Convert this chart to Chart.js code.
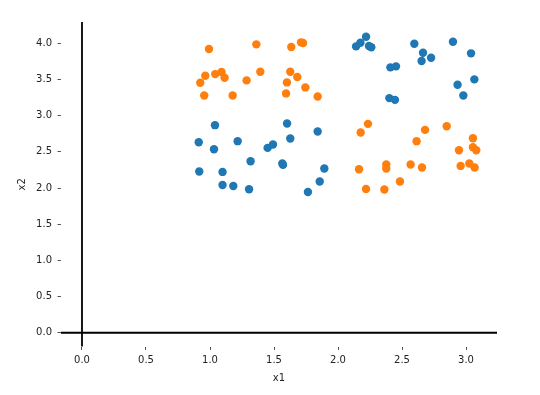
<!DOCTYPE html>
<html>
<head>
<meta charset="utf-8">
<script src="https://cdn.jsdelivr.net/npm/chart.js@4"></script>
<style>
  html, body { margin: 0; padding: 0; background: #fff; }
  #wrap { width: 540px; height: 395px; }
</style>
</head>
<body>
<div id="wrap"><canvas id="chart"></canvas></div>
<script>
// blue cluster (x1, x2)
const blueX = [1.039, 0.912, 1.031, 1.216, 1.602, 1.627, 1.841, 1.45, 1.492, 1.317, 1.565, 1.57, 0.916, 1.098, 1.893, 1.098, 1.182, 1.305, 1.857, 1.765,
    2.219, 2.175, 2.141, 2.242, 2.26, 2.596, 2.898, 3.039, 2.664, 2.727, 2.653, 2.409, 2.453, 2.934, 3.065, 2.979, 2.401, 2.445];
const blueY = [2.869, 2.634, 2.537, 2.648, 2.893, 2.685, 2.782, 2.555, 2.602, 2.371, 2.339, 2.32, 2.228, 2.223, 2.27, 2.043, 2.029, 1.983, 2.09, 1.946,
    4.091, 4.008, 3.958, 3.963, 3.945, 3.995, 4.022, 3.862, 3.87, 3.801, 3.755, 3.668, 3.682, 3.427, 3.502, 3.28, 3.243, 3.219];

// orange cluster (x1, x2)
const orangeX = [0.992, 1.362, 1.635, 1.711, 1.727, 0.963, 1.041, 1.09, 1.114, 0.924, 1.286, 1.393, 1.627, 1.682, 1.601, 1.745, 0.955, 1.177, 1.594, 1.841,
    2.234, 2.177, 2.68, 2.849, 2.614, 3.054, 2.945, 3.054, 3.08, 2.164, 2.377, 2.377, 2.567, 2.656, 2.958, 3.026, 3.067, 2.484, 2.219, 2.362];
const orangeY = [3.921, 3.986, 3.949, 4.014, 4.004, 3.552, 3.575, 3.603, 3.524, 3.455, 3.488, 3.607, 3.607, 3.534, 3.46, 3.391, 3.28, 3.28, 3.308, 3.266,
    2.887, 2.768, 2.804, 2.855, 2.648, 2.689, 2.523, 2.565, 2.523, 2.26, 2.325, 2.27, 2.325, 2.284, 2.306, 2.339, 2.284, 2.09, 1.988, 1.979];

const xTicks = [0.0, 0.5, 1.0, 1.5, 2.0, 2.5, 3.0];
const yTicks = [0.0, 0.5, 1.0, 1.5, 2.0, 2.5, 3.0, 3.5, 4.0];

const toPoints = (xs, ys) => xs.map((x, i) => ({ x: x, y: ys[i] }));

// spines through the origin, like matplotlib set_position('zero')
const spines = {
    id: 'spines',
    afterDatasetsDraw(chart) {
        const { ctx, chartArea, scales } = chart;
        const x0 = scales.x.getPixelForValue(0);
        const y0 = scales.y.getPixelForValue(0);
        ctx.save();
        ctx.strokeStyle = '#000';
        ctx.lineWidth = 1.8;
        ctx.beginPath();
        ctx.moveTo(x0, chartArea.top);
        ctx.lineTo(x0, chartArea.bottom);
        ctx.moveTo(chartArea.left, y0);
        ctx.lineTo(chartArea.right, y0);
        ctx.stroke();
        ctx.restore();
    }
};

const font = { family: 'DejaVu Sans', size: 10 };

new Chart(document.getElementById('chart'), {
    type: 'scatter',
    data: {
        datasets: [{
            data: toPoints(blueX, blueY),
            backgroundColor: '#1f77b4',
            borderWidth: 0,
            pointRadius: 4.2,
            pointHoverRadius: 4.2
        }, {
            data: toPoints(orangeX, orangeY),
            backgroundColor: '#ff7f0e',
            borderWidth: 0,
            pointRadius: 4.2,
            pointHoverRadius: 4.2
        }]
    },
    options: {
        responsive: true,
        maintainAspectRatio: false,
        animation: false,
        layout: { padding: { top: 22, right: 43, left: 0, bottom: 0 } },
        plugins: {
            legend: { display: false },
            tooltip: { enabled: false }
        },
        scales: {
            x: {
                type: 'linear',
                min: -0.164,
                max: 3.242,
                afterBuildTicks: (scale) => { scale.ticks = xTicks.map(v => ({ value: v })); },
                afterFit: (scale) => { scale.height = 48.5; },
                border: { display: false },
                grid: { drawOnChartArea: false, drawTicks: true, tickLength: 3.5, tickColor: '#555', tickWidth: 1 },
                ticks: { font: font, color: '#222', padding: 4, maxRotation: 0, callback: v => v.toFixed(1) },
                title: { display: true, text: 'x1', font: font, color: '#222', padding: { top: 0, bottom: 11 } }
            },
            y: {
                type: 'linear',
                min: -0.19,
                max: 4.295,
                afterBuildTicks: (scale) => { scale.ticks = yTicks.map(v => ({ value: v })); },
                afterFit: (scale) => { scale.width = 61; },
                border: { display: false },
                grid: { drawOnChartArea: false, drawTicks: true, tickLength: 3.5, tickColor: '#555', tickWidth: 1 },
                ticks: { font: font, color: '#222', padding: 5.5, callback: v => v.toFixed(1) },
                title: { display: true, text: 'x2', font: font, color: '#222', padding: { top: 16, bottom: 0 } }
            }
        }
    },
    plugins: [spines]
});
</script>
</body>
</html>
